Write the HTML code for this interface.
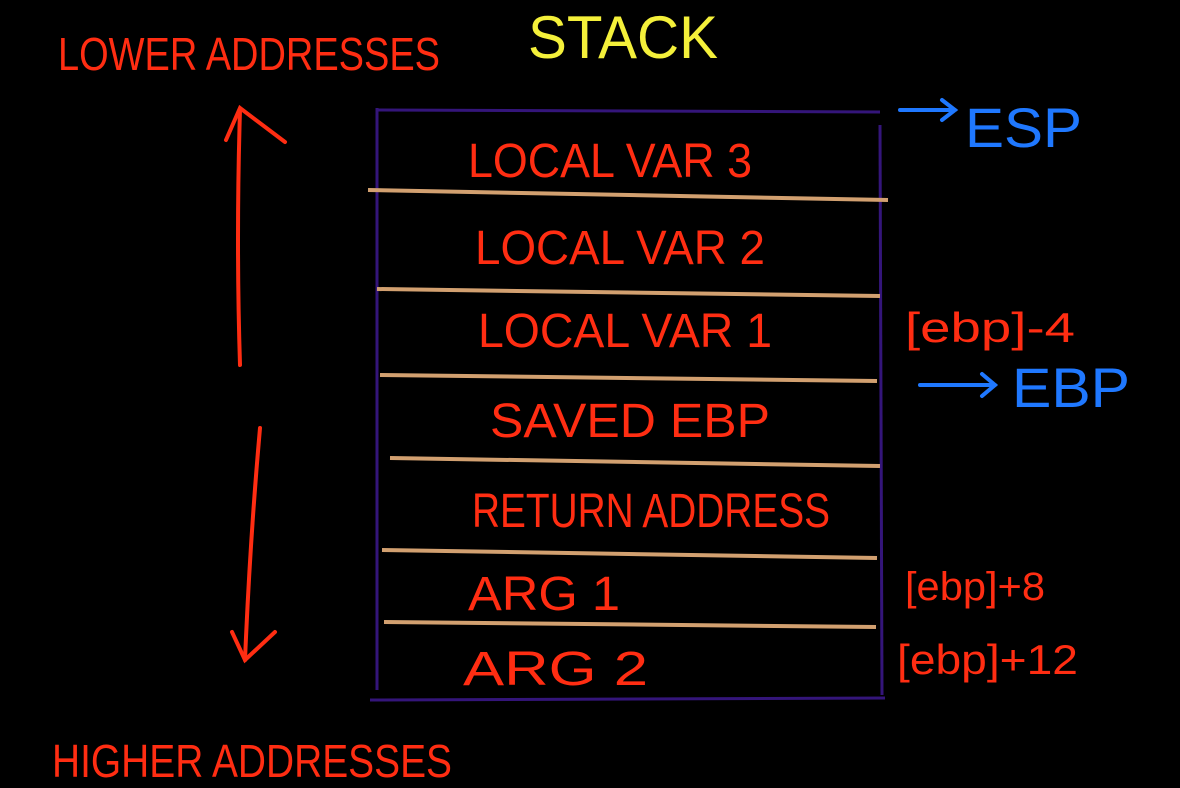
<!DOCTYPE html>
<html><head><meta charset="utf-8"><style>
html,body{margin:0;padding:0;background:#000;width:1180px;height:788px;overflow:hidden}
svg{display:block}
text{font-family:"Liberation Sans",sans-serif;font-weight:normal}
.r{fill:#ff2d12}
.b{fill:#1f78ff}
</style></head><body>
<svg width="1180" height="788" viewBox="0 0 1180 788">
<rect width="1180" height="788" fill="#000"/>
<text x="528" y="58" font-size="60" fill="#f4f03a" textLength="190" lengthAdjust="spacingAndGlyphs">STACK</text>
<text class="r" x="58" y="70" font-size="46" textLength="382" lengthAdjust="spacingAndGlyphs">LOWER ADDRESSES</text>
<text class="r" x="52" y="777" font-size="46" textLength="400" lengthAdjust="spacingAndGlyphs">HIGHER ADDRESSES</text>
<g stroke="#ff2d12" stroke-width="4" fill="none" stroke-linecap="round">
<path d="M240 365 Q236 240 240 110"/>
<path d="M226 140 L240 108 L285 142"/>
<path d="M260 428 Q250 540 245 660"/>
<path d="M232 632 L245 660 L275 632"/>
</g>
<g stroke="#34157a" stroke-width="3" fill="none">
<path d="M377 108 L377 690"/>
<path d="M880 125 L882 695"/>
<path d="M377 110 L880 112"/>
<path d="M370 700 L885 698"/>
</g>
<g stroke="#d2a070" stroke-width="4" fill="none">
<path d="M368 190 L888 200"/>
<path d="M377 289 L880 296"/>
<path d="M380 375 L877 381"/>
<path d="M390 458 L880 466"/>
<path d="M382 550 L877 558"/>
<path d="M384 622 L876 627"/>
</g>
<text class="r" x="468" y="177" font-size="48" textLength="284" lengthAdjust="spacingAndGlyphs">LOCAL VAR 3</text>
<text class="r" x="475" y="264" font-size="48" textLength="290" lengthAdjust="spacingAndGlyphs">LOCAL VAR 2</text>
<text class="r" x="478" y="347" font-size="48" textLength="294" lengthAdjust="spacingAndGlyphs">LOCAL VAR 1</text>
<text class="r" x="490" y="437" font-size="48" textLength="280" lengthAdjust="spacingAndGlyphs">SAVED EBP</text>
<text class="r" x="472" y="527" font-size="48" textLength="358" lengthAdjust="spacingAndGlyphs">RETURN ADDRESS</text>
<text class="r" x="468" y="610" font-size="48" textLength="152" lengthAdjust="spacingAndGlyphs">ARG 1</text>
<text class="r" x="463" y="685" font-size="48" textLength="185" lengthAdjust="spacingAndGlyphs">ARG 2</text>
<g stroke="#1f78ff" stroke-width="4" fill="none" stroke-linecap="round">
<path d="M900 110 L955 110 M942 100 L955 110 L942 120"/>
<path d="M920 385 L995 385 M982 374 L995 385 L982 396"/>
</g>
<text class="b" x="965" y="147" font-size="56" textLength="117" lengthAdjust="spacingAndGlyphs">ESP</text>
<text class="b" x="1012" y="407" font-size="56" textLength="118" lengthAdjust="spacingAndGlyphs">EBP</text>
<text class="r" x="905" y="342" font-size="42" textLength="170" lengthAdjust="spacingAndGlyphs">[ebp]-4</text>
<text class="r" x="905" y="600" font-size="40" textLength="140" lengthAdjust="spacingAndGlyphs">[ebp]+8</text>
<text class="r" x="897" y="674" font-size="42" textLength="181" lengthAdjust="spacingAndGlyphs">[ebp]+12</text>
</svg>
</body></html>
